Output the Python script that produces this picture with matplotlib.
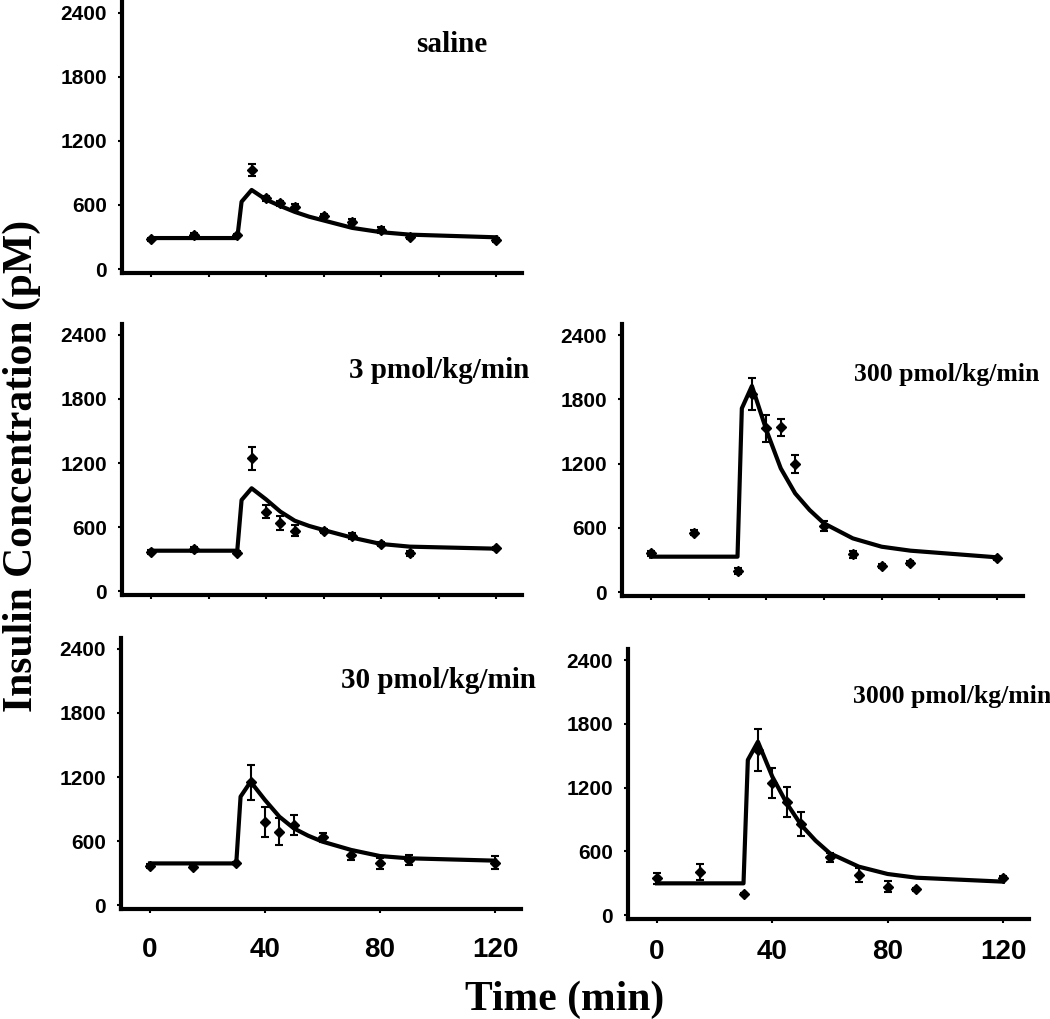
import matplotlib
matplotlib.use("Agg")
import matplotlib.pyplot as plt
import numpy as np

W, H = 1050, 1019

# observed sampling times (min)
t_obs = [0, 15, 30, 35, 40, 45, 50, 60, 70, 80, 90, 120]
# model curve times (min)
t_model = [0, 30, 31.5, 35, 40, 45, 50, 55, 60, 70, 80, 90, 120]

saline_obs = [278, 318, 315, 927, 662, 615, 583, 496, 443, 365, 297, 271]
saline_err = [15, 15, 15, 60, 25, 25, 25, 20, 25, 25, 20, 15]
saline_model = [290, 290, 630, 740, 650, 590, 535, 490, 455, 385, 345, 322, 297]

p3_obs = [369, 391, 360, 1244, 744, 635, 566, 566, 516, 441, 353, 400]
p3_err = [20, 25, 15, 105, 60, 65, 50, 20, 25, 15, 25, 15]
p3_model = [378, 378, 853, 963, 859, 744, 659, 610, 572, 500, 441, 416, 397]

p30_obs = [366, 360, 397, 1150, 775, 688, 750, 634, 469, 391, 422, 397]
p30_err = [15, 10, 10, 165, 140, 125, 90, 40, 50, 50, 45, 60]
p30_model = [390, 390, 1016, 1156, 984, 828, 719, 650, 594, 516, 459, 438, 416]

p300_obs = [361, 554, 196, 1850, 1528, 1538, 1195, 616, 352, 246, 268, 315]
p300_err = [25, 25, 30, 150, 125, 80, 80, 50, 30, 20, 20, 15]
p300_model = [330, 330, 1715, 1924, 1513, 1155, 921, 766, 641, 501, 423, 386, 324]

p3000_obs = [345, 408, 198, 1553, 1239, 1067, 856, 543, 376, 267, 241, 345]
p3000_err = [50, 75, 10, 200, 140, 140, 110, 45, 65, 50, 15, 20]
p3000_model = [298, 298, 1459, 1631, 1302, 1051, 847, 700, 580, 455, 386, 351, 314]

titles = ["saline", "3 pmol/kg/min", "300 pmol/kg/min", "30 pmol/kg/min", "3000 pmol/kg/min"]
yticks = [0, 600, 1200, 1800, 2400]

# panel boxes in pixels: left, top, right, bottom
boxes = [
    (122.25, 2.0, 521.9, 273.3),
    (122.25, 324.3, 521.9, 595.3),
    (622.2, 324.3, 1022.9, 596.3),
    (121.25, 638.3, 520.9, 909.3),
    (628.2, 649.4, 1028.9, 919.25),
]
title_pos = [(416, 45, 21), (349, 371, 21), (854, 375, 18.5), (341, 680, 21), (853, 696, 18.5)]
panels = [
    (saline_obs, saline_err, saline_model),
    (p3_obs, p3_err, p3_model),
    (p300_obs, p300_err, p300_model),
    (p30_obs, p30_err, p30_model),
    (p3000_obs, p3000_err, p3000_model),
]

fig = plt.figure(figsize=(W / 100, H / 100), dpi=100)

for i in range(5):
    l, t, r, b = boxes[i]
    ax = fig.add_axes([l / W, 1 - b / H, (r - l) / W, (b - t) / H])
    obs, err, model = panels[i]
    ax.plot(t_model, model, color="black", lw=3, solid_joinstyle="round", zorder=3)
    ax.errorbar(t_obs, obs, yerr=err, fmt="D", ms=5, color="black", ecolor="black",
                elinewidth=1.5, capsize=3, capthick=1.5, zorder=4)
    ax.set_xlim(-10, 129)
    ax.set_ylim(-40, 2500)
    for s in ["top", "right"]:
        ax.spines[s].set_visible(False)
    for s in ["left", "bottom"]:
        ax.spines[s].set_linewidth(3)
    ax.set_yticks(yticks)
    ax.tick_params(axis="y", length=3, width=1.5, pad=8)
    bottom_row = i >= 3
    if bottom_row:
        ax.set_xticks([0, 40, 80, 120])
        ax.tick_params(axis="x", length=3, width=1.5, pad=17 if i == 3 else 11)
    else:
        ax.set_xticks([0, 20, 40, 60, 80, 100, 120])
        ax.tick_params(axis="x", length=3, width=1.5, labelbottom=False)
    for lab in ax.get_yticklabels():
        lab.set_fontfamily("Liberation Sans")
        lab.set_fontweight("bold")
        lab.set_fontsize(15)
    for lab in ax.get_xticklabels():
        lab.set_fontfamily("Liberation Sans")
        lab.set_fontweight("bold")
        lab.set_fontsize(20)
    tx, ty, fs = title_pos[i]
    fig.text(tx / W, 1 - ty / H, titles[i], ha="left", va="center", fontsize=fs,
             fontweight="bold", family="Liberation Serif")

fig.text(565 / W, 1 - 1000 / H, "Time (min)", ha="center", va="center", fontsize=30,
         fontweight="bold", family="Liberation Serif")
fig.text(22 / W, 1 - 466 / H, "Insulin Concentration (pM)", ha="center", va="center",
         rotation=90, fontsize=30, fontweight="bold", family="Liberation Serif")

fig.savefig("out.png", dpi=100)
